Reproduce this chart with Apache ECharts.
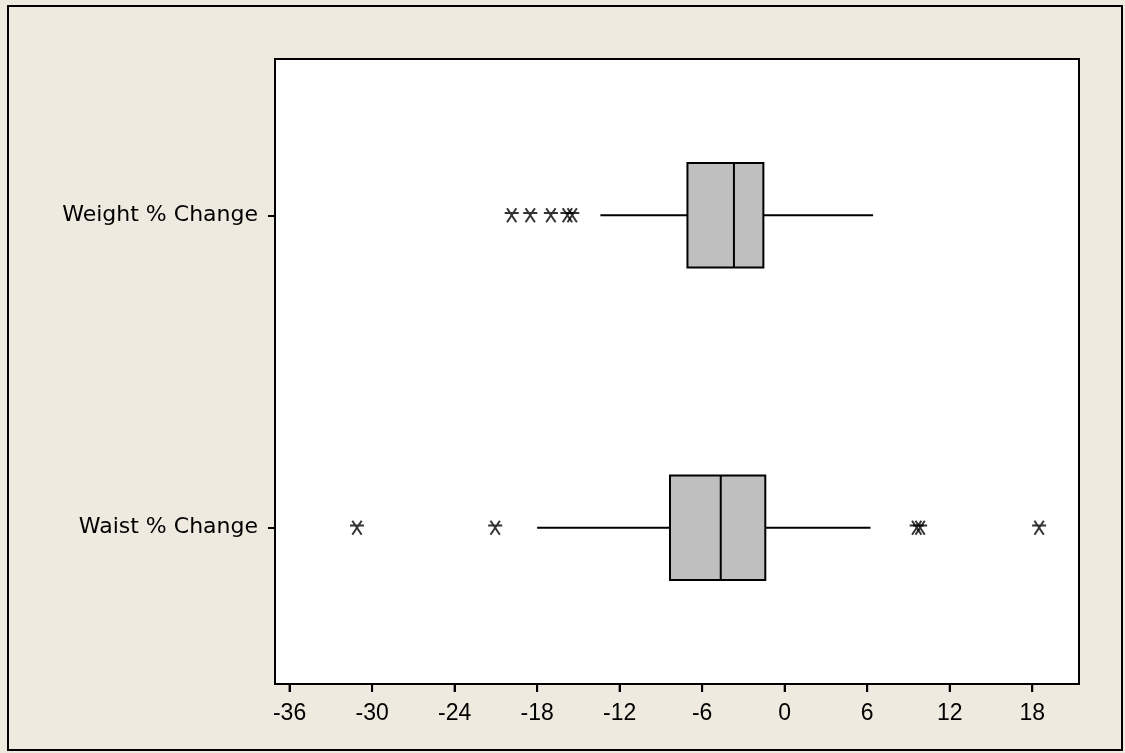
<!DOCTYPE html>
<html>
<head>
<meta charset="utf-8">
<script src="https://cdn.jsdelivr.net/npm/echarts@6/dist/echarts.min.js"></script>
<style>
html,body{margin:0;padding:0;background:#EEEAE0;}
#chart{width:1125px;height:753px;}
</style>
</head>
<body>
<div id="chart"></div>
<script>
var categories = ['Waist % Change', 'Weight % Change'];
// [min whisker, Q1, median, Q3, max whisker]
var waistStats = [-18.0, -8.34, -4.65, -1.41, 6.24];
var weightStats = [-13.4, -7.07, -3.69, -1.55, 6.43];
var waistOutliers = [-31.1, -21.05, 9.6, 9.85, 18.5];
var weightOutliers = [-19.85, -18.5, -17.0, -15.8, -15.45];
var tickValues = [-36, -30, -24, -18, -12, -6, 0, 6, 12, 18];

var boxData = [
  [0].concat(waistStats),
  [1].concat(weightStats)
];
var outlierData = [];
waistOutliers.forEach(function (v) { outlierData.push([v, 0]); });
weightOutliers.forEach(function (v) { outlierData.push([v, 1]); });
var tickData = tickValues.map(function (v) { return [v, 0]; });

var chart = echarts.init(document.getElementById('chart'));
var option = {
  backgroundColor: '#EEEAE0',
  animation: false,
  graphic: [{
    type: 'rect',
    shape: { x: 8, y: 6, width: 1114, height: 744 },
    style: { fill: 'none', stroke: '#000', lineWidth: 2 },
    z: 100
  }],
  grid: {
    left: 275, top: 59, right: 46, bottom: 69,
    show: true, backgroundColor: '#fff', borderColor: '#000', borderWidth: 2
  },
  xAxis: {
    type: 'value',
    min: -37.06, max: 21.4,
    splitLine: { show: false },
    axisLine: { show: true, onZero: false, lineStyle: { color: '#000', width: 2 } },
    axisTick: { show: true, length: 8, customValues: tickValues, lineStyle: { color: '#000', width: 2 } },
    axisLabel: {
      customValues: tickValues,
      color: '#000', fontSize: 23, margin: 18,
      fontFamily: '"Liberation Sans Narrow", "Liberation Sans", sans-serif'
    }
  },
  yAxis: {
    type: 'category',
    data: categories,
    axisLine: { show: true, onZero: false, lineStyle: { color: '#000', width: 2 } },
    axisTick: { show: true, alignWithLabel: true, length: 7, lineStyle: { color: '#000', width: 2 } },
    axisLabel: { color: '#000', fontSize: 22, margin: 17, fontFamily: '"DejaVu Sans", sans-serif' }
  },
  series: [{
    type: 'custom',
    data: boxData,
    encode: { y: 0, x: [1, 2, 3, 4, 5] },
    renderItem: function (params, api) {
      var c = api.value(0);
      var band = api.size([0, 1])[1];
      var h = band * 0.335;
      var pMin = api.coord([api.value(1), c]);
      var pQ1 = api.coord([api.value(2), c]);
      var pMed = api.coord([api.value(3), c]);
      var pQ3 = api.coord([api.value(4), c]);
      var pMax = api.coord([api.value(5), c]);
      var y = pQ1[1];
      var ls = { stroke: '#000', lineWidth: 2 };
      return {
        type: 'group',
        children: [
          { type: 'line', shape: { x1: pMin[0], y1: y, x2: pQ1[0], y2: y }, style: ls },
          { type: 'line', shape: { x1: pQ3[0], y1: y, x2: pMax[0], y2: y }, style: ls },
          { type: 'rect', shape: { x: pQ1[0], y: y - h / 2, width: pQ3[0] - pQ1[0], height: h },
            style: { fill: '#BFBFBF', stroke: '#000', lineWidth: 2 } },
          { type: 'line', shape: { x1: pMed[0], y1: y - h / 2, x2: pMed[0], y2: y + h / 2 }, style: ls }
        ]
      };
    }
  }, {
    type: 'custom',
    data: tickData,
    encode: { x: 0, y: 1 },
    clip: false,
    silent: true,
    z: 20,
    renderItem: function (params, api) {
      var p = api.coord([api.value(0), 0]);
      var band = api.size([0, 1])[1];
      var yb = p[1] + band / 2;
      return { type: 'line', shape: { x1: p[0], y1: yb, x2: p[0], y2: yb + 8 },
        style: { stroke: '#000', lineWidth: 2 } };
    }
  }, {
    type: 'scatter',
    data: outlierData,
    symbol: 'path://M0,4 L12,4 M2,0 L10,12 M10,0 L2,12',
    symbolSize: [14, 14],
    itemStyle: { color: 'none', borderColor: '#000', borderWidth: 2 },
    z: 5
  }]
};
chart.setOption(option);
</script>
</body>
</html>
